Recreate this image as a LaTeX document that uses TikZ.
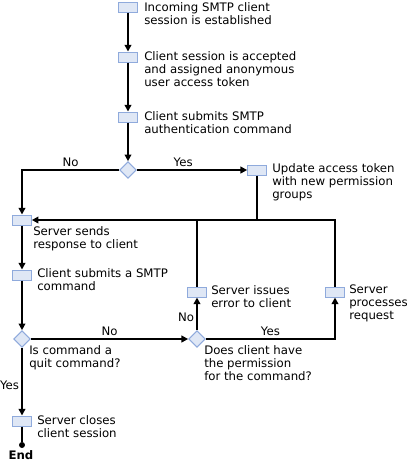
\documentclass[tikz,border=0pt]{standalone}
\usepackage{fontspec}
\setmainfont{DejaVu Sans}
\usetikzlibrary{positioning, arrows.meta, shapes.geometric}
\definecolor{boxfill}{HTML}{DFE7F5}
\definecolor{boxline}{HTML}{8FAADC}
\tikzset{
  link/.style={
	-{Triangle[length=5pt,width=5pt]}, % small solid heads
	line width=1.5pt,
  },
  plain/.style={line width=1.5pt},
  taskbox/.style={draw=boxline, line width=0.75pt, fill=boxfill, minimum width=14pt, minimum height=7.5pt, inner sep=0pt},
  decision/.style={diamond, draw=boxline, line width=0.75pt, fill=boxfill, minimum width=12.5pt, minimum height=12.5pt, inner sep=0pt},
  note/.style={anchor=north west, align=left, inner sep=0pt},
  answer/.style={inner sep=1.5pt},
}
\begin{document}
\begin{tikzpicture}[x=0.75pt, y=-0.75pt, font=\fontsize{8.8}{9.75}\selectfont]
	  \useasboundingbox (0,0) rectangle (407,462);

	  % steps and decisions
	  \node[taskbox] (incoming) at (128,7) {};
	  \node[taskbox] (accepted) at (128,57) {};
	  \node[taskbox] (submitauth) at (128,117) {};
	  \node[decision] (authok) at (128,170) {};
	  \node[taskbox] (update) at (257,170) {};
	  \node[taskbox] (respond) at (22,220) {};
	  \node[taskbox] (submitcmd) at (22,275) {};
	  \node[decision] (isquit) at (22,339) {};
	  \node[decision] (allowed) at (197,339) {};
	  \node[taskbox] (error) at (197,292) {};
	  \node[taskbox] (process) at (335,292) {};
	  \node[taskbox] (close) at (22,421) {};
	  \node[circle, fill, inner sep=0pt, minimum size=4.5pt] (stop) at (22,445) {};

	  % texts
	  \node[note] (incoming text) at (144,2) {Incoming SMTP client\\session is established};
	  \node[note] (accepted text) at (144,51) {Client session is accepted\\and assigned anonymous\\user access token};
	  \node[note] (submitauth text) at (144,111) {Client submits SMTP\\authentication command};
	  \node[note] (update text) at (272,163) {Update access token\\with new permission\\groups};
	  \node[note] (respond text) at (33,226) {Server sends\\response to client};
	  \node[note] (submitcmd text) at (37,268) {Client submits a SMTP\\command};
	  \node[note] (error text) at (211,285) {Server issues\\error to client};
	  \node[note] (process text) at (349,285) {Server\\processes\\request};
	  \node[note] (isquit text) at (29,345) {Is command a\\quit command?};
	  \node[note] (allowed text) at (204,345) {Does client have\\the permission\\for the command?};
	  \node[note] (close text) at (37,415) {Server closes\\client session};
	  \node[font=\fontsize{8.8}{9.75}\bfseries] (end text) at (21,455) {End};

	  % connectors
	  \draw[link] (incoming) -- (accepted);
	  \draw[link] (accepted) -- (submitauth);
	  \draw[link] (submitauth) -- (authok);
	  \draw[link] (authok) -| node[answer, pos=0.25, above] {No} (respond);
	  \draw[link] (authok) -- node[answer, pos=0.42, above] {Yes} (update);
	  \draw[link] (process) |- (respond);
	  \draw[plain] (update) -- (update |- respond);
	  \draw[plain] (error) -- (error |- respond);
	  \draw[link] (respond) -- (submitcmd);
	  \draw[link] (submitcmd) -- (isquit);
	  \draw[link] (isquit) -- node[answer, above] {No} (allowed);
	  \draw[link] (allowed) -- node[answer, left, pos=0.4] {No} (error);
	  \draw[link] (allowed) -| node[answer, pos=0.25, above] {Yes} (process);
	  \draw[link] (isquit) -- node[answer, left, pos=0.55] {Yes} (close);
	  \draw[plain] (close) -- (stop);
\end{tikzpicture}
\end{document}
